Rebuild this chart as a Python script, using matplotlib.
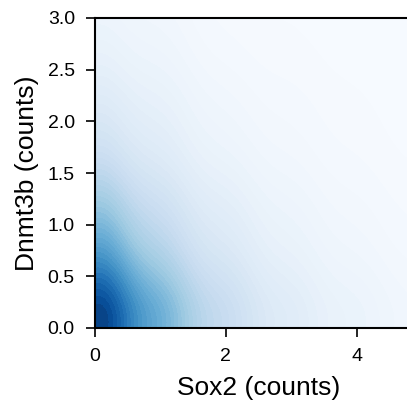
import matplotlib
matplotlib.use('Agg')
import matplotlib.pyplot as plt
from matplotlib.colors import Normalize
import numpy as np

# number of cells per (Sox2, Dnmt3b) count pair; rows = Dnmt3b count, columns = Sox2 count
SOX2_COUNTS = [0, 1, 2, 3, 4, 5, 6, 7]
DNMT3B_COUNTS = [0, 1, 2, 3, 4, 5]
N_CELLS = [
    [374, 168, 80, 40, 22, 11, 5, 2],
    [135, 64, 32, 16, 8, 4, 2, 1],
    [45, 25, 11, 6, 3, 1, 1, 0],
    [16, 10, 3, 2, 1, 0, 0, 0],
    [5, 3, 1, 1, 0, 0, 0, 0],
    [1, 1, 0, 0, 0, 0, 0, 0],
]

# kernel widths (counts)
BW_SOX2 = 0.45
BW_DNMT3B = 0.5
N_LEVELS = 50

plt.rcParams['font.family'] = ['Liberation Sans', 'DejaVu Sans']

sx, sy = np.meshgrid(SOX2_COUNTS, DNMT3B_COUNTS)
w = np.array(N_CELLS, dtype=float)
keep = w > 0
px, py, pw = sx[keep], sy[keep], w[keep] / w.sum()

gx = np.linspace(-3 * BW_SOX2, max(SOX2_COUNTS) + 3 * BW_SOX2, 300)
gy = np.linspace(-3 * BW_DNMT3B, max(DNMT3B_COUNTS) + 3 * BW_DNMT3B, 300)
xx, yy = np.meshgrid(gx, gy)
dens = np.zeros_like(xx)
for x0, y0, wt in zip(px, py, pw):
    dens += wt * np.exp(-0.5 * ((xx - x0) / BW_SOX2) ** 2 - 0.5 * ((yy - y0) / BW_DNMT3B) ** 2)
dens /= 2 * np.pi * BW_SOX2 * BW_DNMT3B

# iso-proportion levels (share of the density mass)
vals = np.sort(dens.ravel())[::-1]
cum = np.cumsum(vals) / vals.sum()
iso = np.linspace(0, 1, N_LEVELS)
idx = np.searchsorted(cum, 1 - iso)
levels = np.unique(np.take(vals, idx, mode='clip'))

fig = plt.figure(figsize=(4.07, 4.05), dpi=100)
ax = fig.add_axes([95 / 407, 77 / 405, 327 / 407, 310 / 405])
ax.contourf(xx, yy, dens, levels=levels, cmap='Blues',
            norm=Normalize(vmin=0, vmax=levels[-1] * 1.06))
ax.set_xlim(0, 5)
ax.set_ylim(0, 3)
ax.set_xticks([0, 2, 4])
ax.set_yticks(np.arange(0, 3.01, 0.5))
ax.set_yticklabels(['%.1f' % v for v in np.arange(0, 3.01, 0.5)])
ax.set_xlabel('Sox2 (counts)', fontsize=19, labelpad=8)
ax.set_ylabel('Dnmt3b (counts)', fontsize=19, labelpad=6)
ax.tick_params(labelsize=14, length=6.5, width=1.2, pad=8)
for sp in ax.spines.values():
    sp.set_linewidth(1.5)

fig.savefig('out.png', dpi=100)
